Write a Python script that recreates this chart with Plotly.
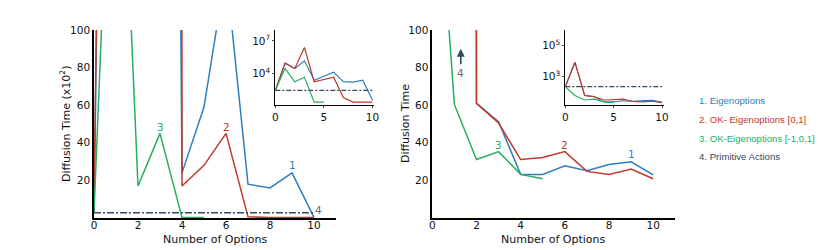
import plotly.graph_objects as go

# ---------------- data ----------------
options = list(range(11))
options_ok3 = list(range(6))

# Left panel (raw diffusion time; main plot shown in units of x10^2)
left_eigen = [275, 83000, 29000, 145000, 2400, 5900, 13200, 1800, 1600, 2400, 35]
left_ok01 = [275, 95000, 29000, 2450000, 1700, 2800, 4500, 60, 23, 23, 23]
left_ok101 = [275, 29000, 1700, 4500, 23, 23]
left_primitive = 275

# Right panel (raw diffusion time)
right_eigen = [225, 8300, 61, 51.2, 23.2, 23.2, 27.8, 25.1, 28.5, 29.9, 22.9]
right_ok01 = [225, 8300, 61, 50.5, 31.1, 32.2, 35.3, 24.8, 23.2, 26.0, 20.9]
right_ok101 = [225, 60.4, 31.1, 35.3, 23.2, 20.9]
right_primitive = 225

legend_labels = ["1. Eigenoptions", "2. OK- Eigenoptions [0,1]",
                 "3. OK-Eigenoptions [-1,0,1]", "4. Primitive Actions"]

BLUE = "#2e7fbd"
RED = "#c0392b"
GREEN = "#27ae60"
GRAY = "#34495e"
GRAY_LBL = "#5d6d7e"
colors = [BLUE, RED, GREEN, GRAY]

FONT = "DejaVu Sans"
W = 830
H = 250

def px_x(p):
    return p / W

def px_y(p):
    return 1 - p / H

fig = go.Figure()

def add_lines(xa, ya, eig, ok01, ok101, prim, scale, lw, dash_pat):
    fig.add_trace(go.Scatter(x=options, y=[v / scale for v in eig], mode="lines",
                             line=dict(color=BLUE, width=lw), xaxis=xa, yaxis=ya,
                             showlegend=False, hoverinfo="skip"))
    fig.add_trace(go.Scatter(x=options, y=[v / scale for v in ok01], mode="lines",
                             line=dict(color=RED, width=lw), xaxis=xa, yaxis=ya,
                             showlegend=False, hoverinfo="skip"))
    fig.add_trace(go.Scatter(x=options_ok3, y=[v / scale for v in ok101], mode="lines",
                             line=dict(color=GREEN, width=lw), xaxis=xa, yaxis=ya,
                             showlegend=False, hoverinfo="skip"))
    fig.add_trace(go.Scatter(x=[options[0], options[-1]], y=[prim / scale, prim / scale],
                             mode="lines", line=dict(color=GRAY, width=lw, dash=dash_pat),
                             xaxis=xa, yaxis=ya, showlegend=False, hoverinfo="skip"))

# left main (x10^2)
add_lines("x", "y", left_eigen, left_ok01, left_ok101, left_primitive, 100, 1.5, "7px,2px,2px,2px")
# left inset (raw, log)
add_lines("x2", "y2", left_eigen, left_ok01, left_ok101, left_primitive, 1, 1.2, "5px,2px,2px,2px")
# right main
add_lines("x3", "y3", right_eigen, right_ok01, right_ok101, right_primitive, 1, 1.5, "7px,2px,2px,2px")
# right inset
add_lines("x4", "y4", right_eigen, right_ok01, right_ok101, right_primitive, 1, 1.2, "5px,2px,2px,2px")

tickfont = dict(family=FONT, size=10.5, color="#111")
main_y_dom = [px_y(218), px_y(30)]
inset_y_dom = [px_y(105), px_y(30)]

axis_common = dict(showgrid=False, zeroline=False, showline=True, linecolor="black",
                   tickfont=tickfont, automargin=False)

fig.update_layout(
    width=W, height=H, margin=dict(l=0, r=0, t=0, b=0, pad=0),
    paper_bgcolor="white", plot_bgcolor="rgba(0,0,0,0)",
    showlegend=False,
    xaxis=dict(domain=[px_x(94), px_x(336)], range=[0, 11], tickvals=[0, 2, 4, 6, 8, 10],
               ticks="", linewidth=1.6, anchor="y", ticklabelstandoff=-3, **axis_common),
    yaxis=dict(domain=main_y_dom, range=[0, 100], tickvals=[20, 40, 60, 80, 100],
               ticks="", linewidth=1.6, anchor="x", **axis_common),
    xaxis2=dict(domain=[px_x(275.3), px_x(374)], range=[0, 10.15], tickvals=[0, 5, 10],
                ticks="outside", ticklen=2, linewidth=1, anchor="y2", **axis_common),
    yaxis2=dict(domain=inset_y_dom, type="log", range=[1.1, 8.0], tickvals=[1e4, 1e7],
                ticktext=["10<sup>4</sup>", "10<sup>7</sup>"],
                ticks="outside", ticklen=2, linewidth=1, anchor="x2", **axis_common),
    xaxis3=dict(domain=[px_x(432.3), px_x(675.3)], range=[0, 11], tickvals=[0, 2, 4, 6, 8, 10],
                ticks="", linewidth=1.6, anchor="y3", ticklabelstandoff=-3, **axis_common),
    yaxis3=dict(domain=main_y_dom, range=[0, 100], tickvals=[20, 40, 60, 80, 100],
                ticks="", linewidth=1.6, anchor="x3", **axis_common),
    xaxis4=dict(domain=[px_x(565.3), px_x(663.5)], range=[0, 10.15], tickvals=[0, 5, 10],
                ticks="outside", ticklen=2, linewidth=1, anchor="y4", **axis_common),
    yaxis4=dict(domain=inset_y_dom, type="log", range=[1.17, 6.0], tickvals=[1e3, 1e5],
                ticktext=["10<sup>3</sup>", "10<sup>5</sup>"],
                ticks="outside", ticklen=2, linewidth=1, anchor="x4", **axis_common),
)

ann = []
def lbl(x, y, xr, yr, t, c):
    return dict(x=x, y=y, xref=xr, yref=yr, text=t, showarrow=False,
                xanchor="center", yanchor="middle",
                font=dict(family=FONT, size=10.5, color=c))

# curve labels, left
ann += [
    lbl(3, 48.5, "x", "y", "3", GREEN),
    lbl(6, 48.5, "x", "y", "2", RED),
    lbl(9, 28, "x", "y", "1", BLUE),
    lbl(10.22, 4.5, "x", "y", "4", GRAY_LBL),
]
# curve labels, right
ann += [
    lbl(3, 38.8, "x3", "y3", "3", GREEN),
    lbl(6, 38.8, "x3", "y3", "2", RED),
    lbl(9, 34, "x3", "y3", "1", BLUE),
    lbl(1.29, 77, "x3", "y3", "4", GRAY_LBL),
    dict(x=1.29, y=90, xref="x3", yref="y3", ax=1.29, ay=81, axref="x3", ayref="y3",
         text="", showarrow=True, arrowhead=2, arrowsize=1, arrowwidth=1.6, arrowcolor=GRAY),
]
# axis titles
titlefont = dict(family=FONT, size=11, color="#111")
def ttl(x, y, t, ang=0):
    return dict(x=px_x(x), y=px_y(y), xref="paper", yref="paper", text=t, textangle=ang,
                showarrow=False, xanchor="center", yanchor="middle", font=titlefont)

ann += [
    ttl(215, 239, "Number of Options"),
    ttl(553, 239, "Number of Options"),
    ttl(65, 124, "Diffusion Time (x10<sup>2</sup>)", -90),
    ttl(405, 124, "Diffusion Time", -90),
]
# legend text
leg_y = [100, 119, 138, 156.7]
for lab, c, yy in zip(legend_labels, colors, leg_y):
    ann.append(dict(x=px_x(697), y=px_y(yy), xref="paper", yref="paper", text=lab,
                    xanchor="left", yanchor="middle", showarrow=False,
                    font=dict(family="Liberation Sans", size=9.6, color=c)))

fig.update_layout(annotations=ann)
fig.write_html("out.html", config={"responsive": False, "displayModeBar": False},
               post_script="document.body.style.margin='0';document.body.style.padding='0';document.body.style.overflow='hidden';")
